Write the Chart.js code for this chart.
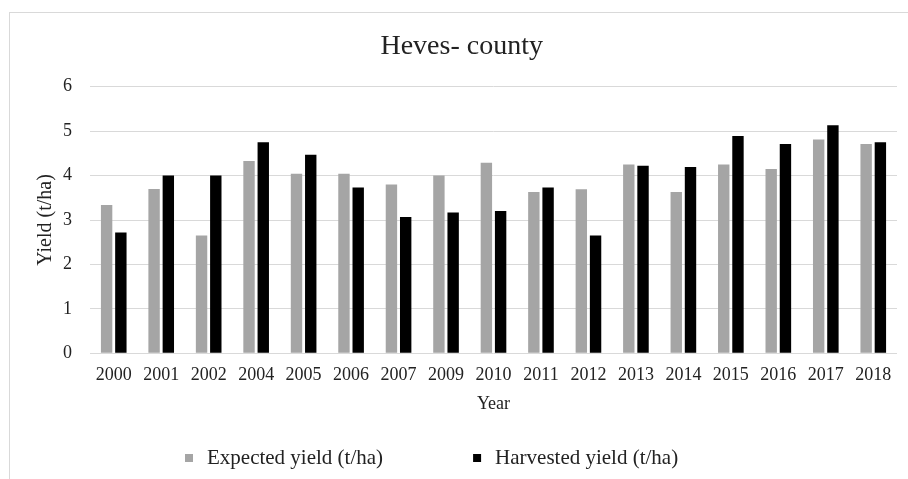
<!DOCTYPE html>
<html>
<head>
<meta charset="utf-8">
<script src="https://cdn.jsdelivr.net/npm/chart.js@4.4.1/dist/chart.umd.min.js"></script>
<style>
  html, body { margin: 0; padding: 0; background: #ffffff; overflow: hidden; }
  #wrap { position: relative; width: 908px; height: 479px; }
  #frame { position: absolute; left: 9px; top: 12px; width: 1000px; height: 1000px;
           border: 1px solid #d9d9d9; box-sizing: border-box; pointer-events: none; }
  canvas { position: absolute; left: 0; top: 0; }
</style>
</head>
<body>
<div id="wrap">
  <div id="frame"></div>
  <canvas id="chart" width="908" height="479"></canvas>
</div>
<script>
// Years shown on the category axis
const years = ['2000', '2001', '2002', '2004', '2005', '2006', '2007', '2009', '2010',
               '2011', '2012', '2013', '2014', '2015', '2016', '2017', '2018'];

// Yields in tonnes per hectare
const expectedYield  = [3.34, 3.70, 2.65, 4.33, 4.04, 4.04, 3.80, 4.00, 4.29,
                        3.63, 3.69, 4.25, 3.63, 4.25, 4.15, 4.81, 4.71];
const harvestedYield = [2.72, 4.00, 4.00, 4.75, 4.47, 3.73, 3.07, 3.17, 3.20,
                        3.73, 2.65, 4.22, 4.19, 4.89, 4.71, 5.13, 4.75];

// Value axis ticks
const yTicks = [0, 1, 2, 3, 4, 5, 6];

const SERIF = '"Liberation Serif", "Times New Roman", serif';
const TEXT = '#222222';
const GRID = '#d9d9d9';

Chart.defaults.font.family = SERIF;
Chart.defaults.color = TEXT;

// Legend row under the axis title: small square swatch followed by the series name
const seriesKey = {
  id: 'seriesKey',
  afterDraw(chart) {
    const ctx = chart.ctx;
    ctx.save();
    ctx.font = '21px ' + SERIF;
    ctx.textBaseline = 'middle';
    ctx.textAlign = 'left';
    let x = 185;
    const y = 458;
    chart.data.datasets.forEach(ds => {
      ctx.fillStyle = ds.backgroundColor;
      ctx.fillRect(x, y - 4, 8, 8);
      ctx.fillStyle = TEXT;
      ctx.fillText(ds.label, x + 22, y);
      x += 22 + ctx.measureText(ds.label).width + 90;
    });
    ctx.restore();
  }
};

new Chart(document.getElementById('chart'), {
  type: 'bar',
  data: {
    labels: years,
    datasets: [
      { label: 'Expected yield (t/ha)', data: expectedYield, backgroundColor: '#a5a5a5',
        borderWidth: 0, categoryPercentage: 0.6, barPercentage: 0.8 },
      { label: 'Harvested yield (t/ha)', data: harvestedYield, backgroundColor: '#000000',
        borderWidth: 0, categoryPercentage: 0.6, barPercentage: 0.8 }
    ]
  },
  options: {
    responsive: false,
    animation: false,
    devicePixelRatio: 1,
    layout: { padding: { left: 26.4, right: 11, top: 0, bottom: 64.2 } },
    plugins: {
      legend: { display: false },
      tooltip: { enabled: false },
      title: {
        display: true,
        text: 'Heves- county',
        color: TEXT,
        font: { family: SERIF, size: 28, weight: 'normal' },
        padding: { top: 29.9, bottom: 23.2 }
      }
    },
    scales: {
      x: {
        grid: { display: false, drawTicks: false },
        border: { display: false },
        ticks: { font: { size: 18 }, color: TEXT, padding: 11, maxRotation: 0, autoSkip: false },
        title: { display: true, text: 'Year', color: TEXT, font: { size: 18 },
                 padding: { top: 0, bottom: 0 } },
        afterFit(scale) { scale.height = 61.5; }
      },
      y: {
        min: 0,
        max: 6,
        afterBuildTicks(scale) { scale.ticks = yTicks.map(v => ({ value: v })); },
        grid: { color: GRID, lineWidth: 1, drawTicks: false },
        border: { display: false },
        ticks: { font: { size: 18 }, color: TEXT, padding: 18 },
        title: { display: true, text: 'Yield (t/ha)', color: TEXT, font: { size: 20 },
                 padding: { top: 7.1, bottom: 0 } },
        afterFit(scale) { scale.width = 63.6; }
      }
    }
  },
  plugins: [seriesKey]
});
</script>
</body>
</html>
